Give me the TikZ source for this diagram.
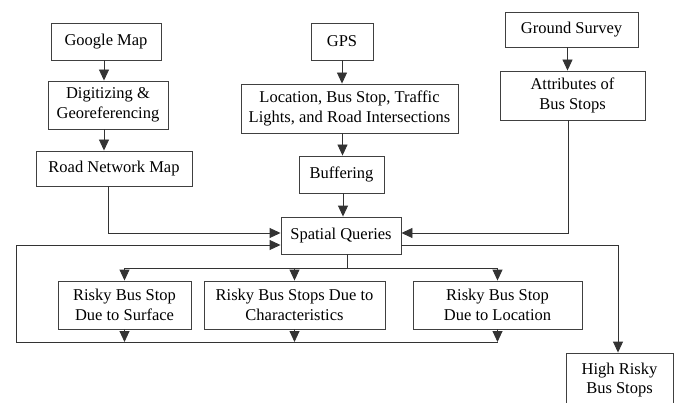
\documentclass[tikz,border=0pt]{standalone}
\usepackage{fontspec}
\setmainfont{Liberation Serif}
\usetikzlibrary{arrows.meta}

\begin{document}
\begin{tikzpicture}[x=1pt,y=-1pt,
line width=0.9pt,
every node/.style={font=\rmfamily\fontsize{16.5}{19.5}\selectfont},
boxnode/.style={draw=black!75, align=center, inner sep=0pt}]
\tikzstyle{ln} = [draw=black!80]
\tikzstyle{ar} = [ln, -{Triangle[length=11pt,width=10pt]}]
\useasboundingbox (0,0) rectangle (684,403);

\node[boxnode, minimum width=110pt, minimum height=37pt](google) at (106,41.5){Google Map};
\node[boxnode, minimum width=120pt, minimum height=48pt](digit) at (108,105){Digitizing \&\\Georeferencing};
\node[boxnode, minimum width=156pt, minimum height=35pt](road) at (114,168.5){Road Network Map};
\node[boxnode, minimum width=62pt, minimum height=37pt](gps) at (342,41.5){GPS};
\node[boxnode, minimum width=217pt, minimum height=49pt](loc) at (349.5,108.5){Location, Bus Stop, Traffic\\Lights, and Road Intersections};
\node[boxnode, minimum width=85pt, minimum height=37pt](buff) at (341.5,174.5){Buffering};
\node[boxnode, minimum width=133pt, minimum height=35pt](ground) at (571.5,29.5){Ground Survey};
\node[boxnode, minimum width=145pt, minimum height=49pt](attr) at (572.5,95.5){Attributes of\\Bus Stops};
\node[boxnode, minimum width=120pt, minimum height=37pt](spatial) at (341,235.5){Spatial Queries};
\node[boxnode, minimum width=133pt, minimum height=48pt](surf) at (124.5,305){Risky Bus Stop\\Due to Surface};
\node[boxnode, minimum width=181pt, minimum height=48pt](char) at (294.5,305){Risky Bus Stops Due to\\Characteristics};
\node[boxnode, minimum width=169pt, minimum height=48pt](locn) at (497.5,305){Risky Bus Stop\\Due to Location};
\node[boxnode, minimum width=107pt, minimum height=54pt](high) at (619.5,380){High Risky\\Bus Stops};

\coordinate(top) at (0,268);
\coordinate(bot) at (16,342);

\draw[ar] ([xshift=-2pt]google.south) -- ([xshift=-2pt]google.south |- digit.north);
\draw[ar] ([xshift=-4pt]digit.south) -- ([xshift=-4pt]digit.south |- road.north);
\draw[ar] (gps.south) -- (gps.south |- loc.north);
\draw[ar] ([xshift=-7pt]loc.south) -- ([xshift=-7pt]loc.south |- buff.north);
\draw[ar] ([xshift=1.5pt]buff.south) -- ([xshift=1.5pt]buff.south |- spatial.north);
\draw[ar] ([xshift=-4pt]ground.south) -- ([xshift=-4pt]ground.south |- attr.north);

\draw[ar] ([xshift=-6pt]road.south) |- ([yshift=2.5pt]spatial.west);
\draw[ar] ([xshift=-4.5pt]attr.south) |- ([yshift=2.5pt]spatial.east);
\draw[ar] ([yshift=-9.5pt]spatial.east) -| ([xshift=-1.5pt]high.north);

% split to the three risky boxes
\draw[ln] ([xshift=6pt]spatial.south) -- ([xshift=6pt]spatial.south |- top);
\draw[ln] (surf.north |- top) -- (locn.north |- top);
\draw[ar] (surf.north |- top) -- (surf.north);
\draw[ar] (char.north |- top) -- (char.north);
\draw[ar] (locn.north |- top) -- (locn.north);

% back to the queries
\draw[ar] (surf.south) -- (surf.south |- bot);
\draw[ar] (char.south) -- (char.south |- bot);
\draw[ar] (locn.south) -- (locn.south |- bot);
\draw[ar] (locn.south |- bot) -- (bot) |- ([yshift=-9.5pt]spatial.west);

\end{tikzpicture}
\end{document}
